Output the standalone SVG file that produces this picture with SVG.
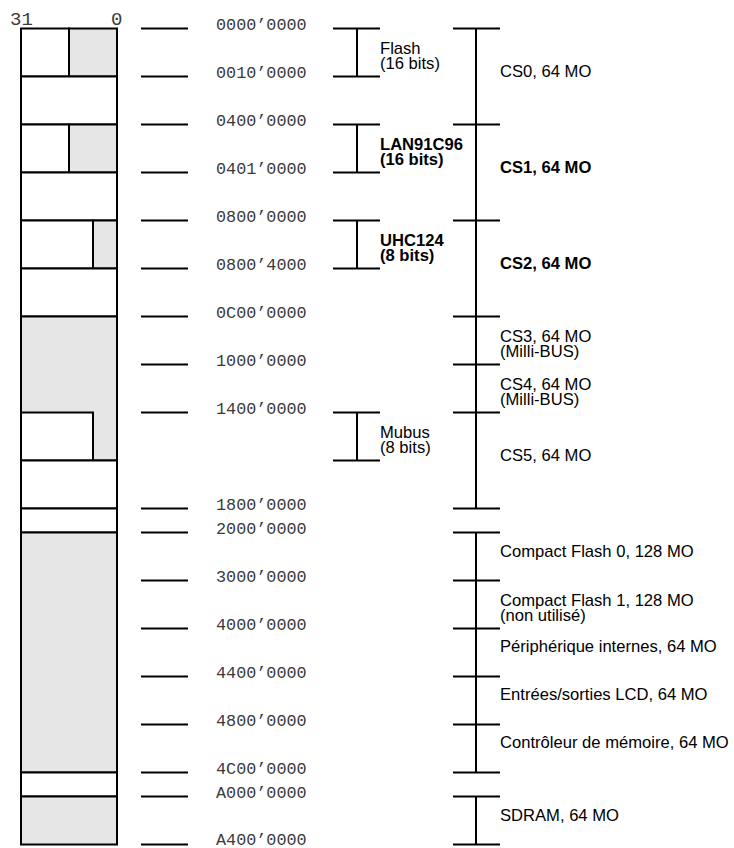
<svg xmlns="http://www.w3.org/2000/svg" width="734" height="848" viewBox="0 0 734 848">
<style>
.cell{stroke:#000;stroke-width:2}
.w{fill:#fff}
.g{fill:#e6e6e6}
.ln{stroke:#000;stroke-width:2;fill:none}
.mono{font-family:"Liberation Mono","Courier New",monospace;font-size:16.8px;fill:#3a3a3a}
.bit{font-family:"Liberation Mono","Courier New",monospace;font-size:19px;fill:#3a3a3a}
.lbl{font-family:"Liberation Sans",Arial,Helvetica,sans-serif;font-size:16.6px;fill:#000}
.b{font-weight:bold}
</style>
<rect width="734" height="848" fill="#fff"/>
<g id="bits">
<text class="bit" x="10" y="24.5">31</text>
<text class="bit" x="111" y="24.5">0</text>
</g>
<g id="memory-column">
<rect class="cell w" x="21" y="28.5" width="48" height="48"/>
<rect class="cell g" x="69" y="28.5" width="48" height="48"/>
<rect class="cell w" x="21" y="76.5" width="96" height="48"/>
<rect class="cell w" x="21" y="124.5" width="48" height="48"/>
<rect class="cell g" x="69" y="124.5" width="48" height="48"/>
<rect class="cell w" x="21" y="172.5" width="96" height="48"/>
<rect class="cell w" x="21" y="220.5" width="72" height="48"/>
<rect class="cell g" x="93" y="220.5" width="24" height="48"/>
<rect class="cell w" x="21" y="268.5" width="96" height="48"/>
<rect class="cell g" x="21" y="316.5" width="96" height="144"/>
<rect class="cell w" x="21" y="412.5" width="72" height="48"/>
<rect class="cell w" x="21" y="460.5" width="96" height="48"/>
<rect class="cell w" x="21" y="508.5" width="96" height="24"/>
<rect class="cell g" x="21" y="532.5" width="96" height="240"/>
<rect class="cell w" x="21" y="772.5" width="96" height="24"/>
<rect class="cell g" x="21" y="796.5" width="96" height="48"/>
</g>
<g id="connectors">
<g id="address-ticks" class="ln">
<line x1="141" y1="28.5" x2="188" y2="28.5"/>
<line x1="141" y1="76.5" x2="188" y2="76.5"/>
<line x1="141" y1="124.5" x2="188" y2="124.5"/>
<line x1="141" y1="172.5" x2="188" y2="172.5"/>
<line x1="141" y1="220.5" x2="188" y2="220.5"/>
<line x1="141" y1="268.5" x2="188" y2="268.5"/>
<line x1="141" y1="316.5" x2="188" y2="316.5"/>
<line x1="141" y1="364.5" x2="188" y2="364.5"/>
<line x1="141" y1="412.5" x2="188" y2="412.5"/>
<line x1="141" y1="508.5" x2="188" y2="508.5"/>
<line x1="141" y1="532.5" x2="188" y2="532.5"/>
<line x1="141" y1="580.5" x2="188" y2="580.5"/>
<line x1="141" y1="628.5" x2="188" y2="628.5"/>
<line x1="141" y1="676.5" x2="188" y2="676.5"/>
<line x1="141" y1="724.5" x2="188" y2="724.5"/>
<line x1="141" y1="772.5" x2="188" y2="772.5"/>
<line x1="141" y1="796.5" x2="188" y2="796.5"/>
<line x1="141" y1="844.5" x2="188" y2="844.5"/>
</g>
<g id="device-brackets" class="ln">
<path d="M333 28.5H380M333 76.5H380M357 28.5V76.5"/>
<path d="M333 124.5H380M333 172.5H380M357 124.5V172.5"/>
<path d="M333 220.5H380M333 268.5H380M357 220.5V268.5"/>
<path d="M333 412.5H380M333 460.5H380M357 412.5V460.5"/>
</g>
<g id="cs-brackets" class="ln">
<path d="M476 28.5V508.5M453 28.5H500M453 124.5H500M453 220.5H500M453 316.5H500M453 364.5H500M453 412.5H500M453 508.5H500"/>
<path d="M476 532.5V772.5M453 532.5H500M453 580.5H500M453 628.5H500M453 676.5H500M453 724.5H500M453 772.5H500"/>
<path d="M476 796.5V844.5M453 796.5H500M453 844.5H500"/>
</g>
</g>
<g id="addresses">
<text class="mono" x="216" y="30">0000’0000</text>
<text class="mono" x="216" y="78">0010’0000</text>
<text class="mono" x="216" y="126">0400’0000</text>
<text class="mono" x="216" y="174">0401’0000</text>
<text class="mono" x="216" y="222">0800’0000</text>
<text class="mono" x="216" y="270">0800’4000</text>
<text class="mono" x="216" y="318">0C00’0000</text>
<text class="mono" x="216" y="366">1000’0000</text>
<text class="mono" x="216" y="414">1400’0000</text>
<text class="mono" x="216" y="510">1800’0000</text>
<text class="mono" x="216" y="534">2000’0000</text>
<text class="mono" x="216" y="582">3000’0000</text>
<text class="mono" x="216" y="630">4000’0000</text>
<text class="mono" x="216" y="678">4400’0000</text>
<text class="mono" x="216" y="726">4800’0000</text>
<text class="mono" x="216" y="774">4C00’0000</text>
<text class="mono" x="216" y="798">A000’0000</text>
<text class="mono" x="216" y="845">A400’0000</text>
</g>
<g id="device-flash"><text class="lbl" x="380" y="54">Flash</text><text class="lbl" x="380" y="69">(16 bits)</text></g>
<g id="device-lan"><text class="lbl b" x="380" y="150">LAN91C96</text><text class="lbl b" x="380" y="165">(16 bits)</text></g>
<g id="device-uhc"><text class="lbl b" x="380" y="246">UHC124</text><text class="lbl b" x="380" y="261">(8 bits)</text></g>
<g id="device-mubus"><text class="lbl" x="380" y="438">Mubus</text><text class="lbl" x="380" y="453">(8 bits)</text></g>
<g id="cs0"><text class="lbl" x="500" y="77">CS0, 64 MO</text></g>
<g id="cs1"><text class="lbl b" x="500" y="173">CS1, 64 MO</text></g>
<g id="cs2"><text class="lbl b" x="500" y="269">CS2, 64 MO</text></g>
<g id="cs3"><text class="lbl" x="500" y="342">CS3, 64 MO</text><text class="lbl" x="500" y="357">(Milli-BUS)</text></g>
<g id="cs4"><text class="lbl" x="500" y="390">CS4, 64 MO</text><text class="lbl" x="500" y="405">(Milli-BUS)</text></g>
<g id="cs5"><text class="lbl" x="500" y="461">CS5, 64 MO</text></g>
<g id="cf0"><text class="lbl" x="500" y="557">Compact Flash 0, 128 MO</text></g>
<g id="cf1"><text class="lbl" x="500" y="606">Compact Flash 1, 128 MO</text><text class="lbl" x="500" y="621">(non utilisé)</text></g>
<g id="periph"><text class="lbl" x="500" y="652">Périphérique internes, 64 MO</text></g>
<g id="lcd"><text class="lbl" x="500" y="700">Entrées/sorties LCD, 64 MO</text></g>
<g id="memctrl"><text class="lbl" x="500" y="748">Contrôleur de mémoire, 64 MO</text></g>
<g id="sdram"><text class="lbl" x="500" y="821">SDRAM, 64 MO</text></g>
</svg>
